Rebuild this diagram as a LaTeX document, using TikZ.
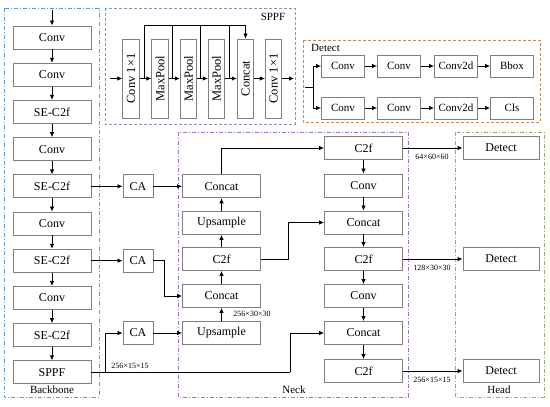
\documentclass[tikz,border=0pt]{standalone}
\usepackage{fontspec}
\setmainfont{Liberation Serif}
\usetikzlibrary{arrows.meta}
\definecolor{boxgray}{HTML}{7F7F7F}
\definecolor{bbblue}{HTML}{5B9BD5}
\definecolor{sppfc}{HTML}{8497B0}
\definecolor{detc}{HTML}{C5895A}
\definecolor{neckc}{HTML}{A070C8}
\definecolor{headc}{HTML}{8DB06C}
\begin{document}
\begin{tikzpicture}[x=1pt,y=-1pt,
  blk/.style={draw=boxgray, line width=0.9pt, fill=white, minimum width=78pt, minimum height=23pt, inner sep=0pt, font=\fontsize{12}{12}\selectfont},
  ca/.style={blk, minimum width=30pt},
  dblk/.style={blk, minimum width=43pt, minimum height=22pt, font=\fontsize{11}{11}\selectfont},
  vblk/.style={blk, rotate=90, minimum width=79pt, minimum height=16.5pt, font=\fontsize{12.5}{12.5}\selectfont},
  arr/.style={-{Latex[length=5pt,width=4.5pt]}, line width=0.8pt},
  ln/.style={line width=0.8pt},
  dashdot/.style={line width=0.8pt, dash pattern=on 4pt off 2pt on 1pt off 2pt},
  dsh/.style={line width=0.8pt, dash pattern=on 3pt off 2pt},
  grp/.style={font=\fontsize{11}{11}\selectfont, inner sep=1pt},
  dim/.style={font=\fontsize{8}{8}\selectfont, inner sep=1pt}
]
\useasboundingbox (0,0) rectangle (550,407);

% group frames
\draw[dashdot, draw=bbblue] (4,8) rectangle (99,397);
\draw[dsh, draw=sppfc] (105,8) rectangle (295,124);
\draw[dsh, draw=detc] (303,40) rectangle (540,122);
\draw[dashdot, draw=neckc] (178,132) rectangle (408,397);
\draw[dashdot, draw=headc] (455,132) rectangle (544,397);

\node[grp] (lbb) at (52,390) {Backbone};
\node[grp] (lsppf) at (273,17) {SPPF};
\node[grp, anchor=west] (ldet) at (310,48) {Detect};
\node[grp] (lneck) at (294,390) {Neck};
\node[grp] (lhead) at (499,390) {Head};

% backbone
\node[blk] (b1) at (52,37.5) {Conv};
\node[blk] (b2) at (52,74.7) {Conv};
\node[blk] (b3) at (52,111.9) {SE-C2f};
\node[blk] (b4) at (52,149.1) {Conv};
\node[blk] (b5) at (52,186.3) {SE-C2f};
\node[blk] (b6) at (52,223.5) {Conv};
\node[blk] (b7) at (52,260.7) {SE-C2f};
\node[blk] (b8) at (52,297.9) {Conv};
\node[blk] (b9) at (52,335.1) {SE-C2f};
\node[blk] (b10) at (52,372.3) {SPPF};
\coordinate (bin) at (52,10);
\draw[arr] (bin) -- (b1);
\foreach \a/\b in {b1/b2,b2/b3,b3/b4,b4/b5,b5/b6,b6/b7,b7/b8,b8/b9,b9/b10}
  \draw[arr] (\a) -- (\b);

% SPPF detail
\node[vblk] (s1) at (131,78.5) {Conv 1×1};
\node[vblk] (s2) at (160,78.5) {MaxPool};
\node[vblk] (s3) at (188.5,78.5) {MaxPool};
\node[vblk] (s4) at (216.5,78.5) {MaxPool};
\node[vblk] (s5) at (245.5,78.5) {Concat};
\node[vblk] (s6) at (273.5,78.5) {Conv 1×1};
\coordinate (sin) at (110,78.5);
\coordinate (sout) at (294,78.5);
\draw[arr] (sin) -- (s1);
\foreach \a/\b in {s1/s2,s2/s3,s3/s4,s4/s5,s5/s6}
  \draw[arr] (\a) -- (\b);
\draw[arr] (s6) -- (sout);
\coordinate (j1) at (144,78.5);
\coordinate (j2) at (172,78.5);
\coordinate (j3) at (200.5,78.5);
\coordinate (j4) at (229,78.5);
\coordinate (t1) at (144,25);
\draw[ln] (j1) -- (t1);
\draw[ln] (j2) -- (j2|-t1);
\draw[ln] (j3) -- (j3|-t1);
\draw[ln] (j4) -- (j4|-t1);
\draw[arr] (t1) -| (s5);

% Detect detail
\node[dblk] (d11) at (343,66) {Conv};
\node[dblk] (d12) at (399,66) {Conv};
\node[dblk] (d13) at (456,66) {Conv2d};
\node[dblk] (d14) at (512,66) {Bbox};
\node[dblk] (d21) at (343,108) {Conv};
\node[dblk] (d22) at (399,108) {Conv};
\node[dblk] (d23) at (456,108) {Conv2d};
\node[dblk] (d24) at (512,108) {Cls};
\coordinate (dj) at (305,87);
\coordinate (dv) at (313,87);
\draw[ln] (dj) -- (dv);
\draw[arr] (dv) |- (d11);
\draw[arr] (dv) |- (d21);
\foreach \a/\b in {d11/d12,d12/d13,d13/d14,d21/d22,d22/d23,d23/d24}
  \draw[arr] (\a) -- (\b);

% CA
\node[ca] (c1) at (138,186.3) {CA};
\node[ca] (c2) at (138,260.7) {CA};
\node[ca] (c3) at (138,333) {CA};

% neck column 1
\node[blk] (n1) at (221.5,186.3) {Concat};
\node[blk] (n2) at (221.5,223) {Upsample};
\node[blk] (n3) at (221.5,259) {C2f};
\node[blk] (n4) at (221.5,296) {Concat};
\node[blk] (n5) at (221.5,333) {Upsample};

% neck column 2
\node[blk] (m1) at (363.5,148) {C2f};
\node[blk] (m2) at (363.5,185.5) {Conv};
\node[blk] (m3) at (363.5,222.5) {Concat};
\node[blk] (m4) at (363.5,259) {C2f};
\node[blk] (m5) at (363.5,296) {Conv};
\node[blk] (m6) at (363.5,333) {Concat};
\node[blk] (m7) at (363.5,371) {C2f};

% head
\node[blk, minimum width=76pt] (h1) at (501,148) {Detect};
\node[blk, minimum width=76pt] (h2) at (501,259) {Detect};
\node[blk, minimum width=76pt] (h3) at (501,371) {Detect};

% connections
\draw[arr] (b5) -- (c1);
\draw[arr] (c1) -- (n1);
\draw[arr] (b7) -- (c2);
\draw[arr] (c2.east) -- ++(11,0) |- (n4);
\coordinate (sp) at (105,372.3);
\coordinate (spr) at (290,372.3);
\draw[ln] (b10.east) -- (spr);
\draw[arr] (spr) |- (m6);
\draw[arr] (sp) |- (c3);
\draw[arr] (c3) -- (n5);
\draw[arr] (n5) -- (n4);
\draw[arr] (n4) -- (n3);
\draw[arr] (n3) -- (n2);
\draw[arr] (n2) -- (n1);
\draw[arr] (n1.north) |- (m1);
\draw[arr] (n3.east) -- ++(27,0) |- (m3);
\foreach \a/\b in {m1/m2,m2/m3,m3/m4,m4/m5,m5/m6,m6/m7}
  \draw[arr] (\a) -- (\b);
\draw[arr] (m1) -- (h1);
\draw[arr] (m4) -- (h2);
\draw[arr] (m7) -- (h3);

% dimension labels
\node[dim] (lab1) at (130,366) {256×15×15};
\node[dim] (lab2) at (252,314) {256×30×30};
\node[dim] (lab3) at (432,157) {64×60×60};
\node[dim] (lab4) at (432,267.5) {128×30×30};
\node[dim] (lab5) at (432,380) {256×15×15};
\end{tikzpicture}
\end{document}
